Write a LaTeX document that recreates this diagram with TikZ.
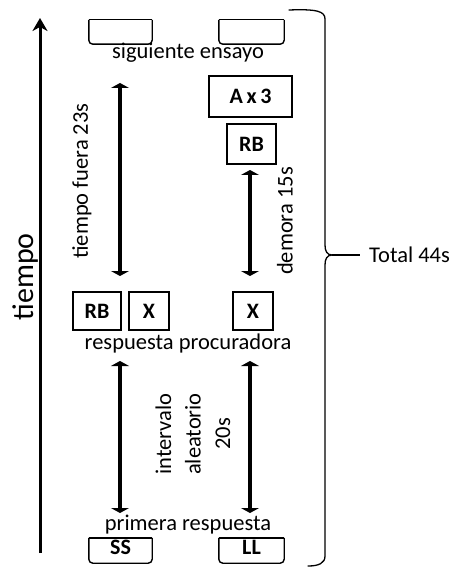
\documentclass[tikz,border=0pt]{standalone}
\usepackage{fontspec}
\setmainfont{Carlito}
\usetikzlibrary{arrows.meta}

\tikzset{
  txt/.style={inner sep=0pt, font=\fontsize{22.5}{26}\selectfont},
  boxlbl/.style={inner sep=0pt, font=\fontsize{22}{26}\selectfont\bfseries},
  keybox/.style={draw, line width=1.4pt, inner sep=0pt, rectangle},
  slot/.style={inner sep=0pt, rectangle},
  slotline/.style={line width=1.4pt, rounded corners=4pt},
  span/.style={line width=3.2pt, {Triangle[width=18pt,length=5pt]}-{Triangle[width=18pt,length=5pt]}},
  timeaxis/.style={line width=3pt, -{Stealth[length=13pt,width=15pt,inset=4pt]}},
  bracket/.style={line width=1.3pt, line cap=round},
}

\begin{document}
\begin{tikzpicture}[x=1pt,y=-1pt]
\useasboundingbox (0,0) rectangle (456,569);

% time axis
\coordinate (t0) at (40,553);
\coordinate (t1) at (40,18);
\draw[timeaxis] (t0) -- (t1);
\node[txt, font=\fontsize{30}{34}\selectfont, rotate=90] (tiempo) at (26,277) {tiempo};

% next trial slots
\node[slot, minimum width=63pt, minimum height=24pt] (nt1) at (120.5,32) {};
\node[slot, minimum width=65pt, minimum height=24pt] (nt2) at (251.5,32) {};
\foreach \b in {nt1,nt2}{
  \draw[slotline] (\b.north west) -- (\b.south west) -- (\b.south east) -- (\b.north east);
  \draw[line width=1.4pt] (\b.north west) -- (\b.north east);
}
\node[txt] (sig) at (188,53) {siguiente ensayo};

% reward and delay column
\node[keybox, minimum width=83pt, minimum height=41pt] (ax3) at (250.5,96.5) {};
\node[boxlbl] at (ax3) {A\,x\,3};
\node[keybox, minimum width=49pt, minimum height=40pt] (rbt) at (251.5,144) {};
\node[boxlbl] at (rbt) {RB};

% procurement response row
\node[keybox, minimum width=48pt, minimum height=38pt] (rb) at (97,311) {};
\node[boxlbl] at (rb) {RB};
\node[keybox, minimum width=40pt, minimum height=38pt] (x1) at (149,311) {};
\node[boxlbl] at (x1) {X};
\node[keybox, minimum width=40pt, minimum height=38pt] (x2) at (253,311) {};
\node[boxlbl] at (x2) {X};
\node[txt] (proc) at (188,343) {respuesta procuradora};

% first response row
\node[txt] (prim) at (188,525) {primera respuesta};
\node[slot, minimum width=63pt, minimum height=25pt] (ss) at (120.5,550.5) {};
\node[slot, minimum width=65pt, minimum height=25pt] (ll) at (251.5,550.5) {};
\foreach \b in {ss,ll}{
  \draw[slotline] (\b.north west) -- (\b.south west) -- (\b.south east) -- (\b.north east);
  \draw[line width=1.4pt] (\b.north west) -- (\b.north east);
}
\node[boxlbl] at (120.5,547) {SS};
\node[boxlbl] at (251.5,547) {LL};

% interval spans
\coordinate (a1) at (120,83);
\coordinate (a2) at (120,276);
\draw[span] (a1) -- (a2);
\node[txt, rotate=90] (tf) at (82,181) {tiempo fuera 23s};

\coordinate (b1) at (250,170);
\coordinate (b2) at (250,276);
\draw[span] (b1) -- (b2);
\node[txt, rotate=90] (dem) at (285,221) {demora 15s};

\coordinate (c1) at (120,361);
\coordinate (c2) at (120,513);
\draw[span] (c1) -- (c2);
\coordinate (d1) at (250,361);
\coordinate (d2) at (250,513);
\draw[span] (d1) -- (d2);
\node[txt, rotate=90, align=center, font=\fontsize{22.5}{29.5}\selectfont] (iv) at (193,434) {intervalo\\aleatorio\\20s};

% total bracket
\coordinate (tip) at (332,255);
\draw[bracket] (289,10) .. controls (316,9) and (325,11) .. (325,19)
  -- (325,245) .. controls (325,251) and (327,255) .. (tip)
  .. controls (327,255) and (325,259) .. (325,265)
  -- (325,556) .. controls (325,563) and (319,566) .. (308,566);
\node[txt, anchor=west] (total) at (369,255) {Total 44s};
\draw[line width=1.3pt] (tip) -- ([xshift=-9pt]total.west);
\end{tikzpicture}
\end{document}
